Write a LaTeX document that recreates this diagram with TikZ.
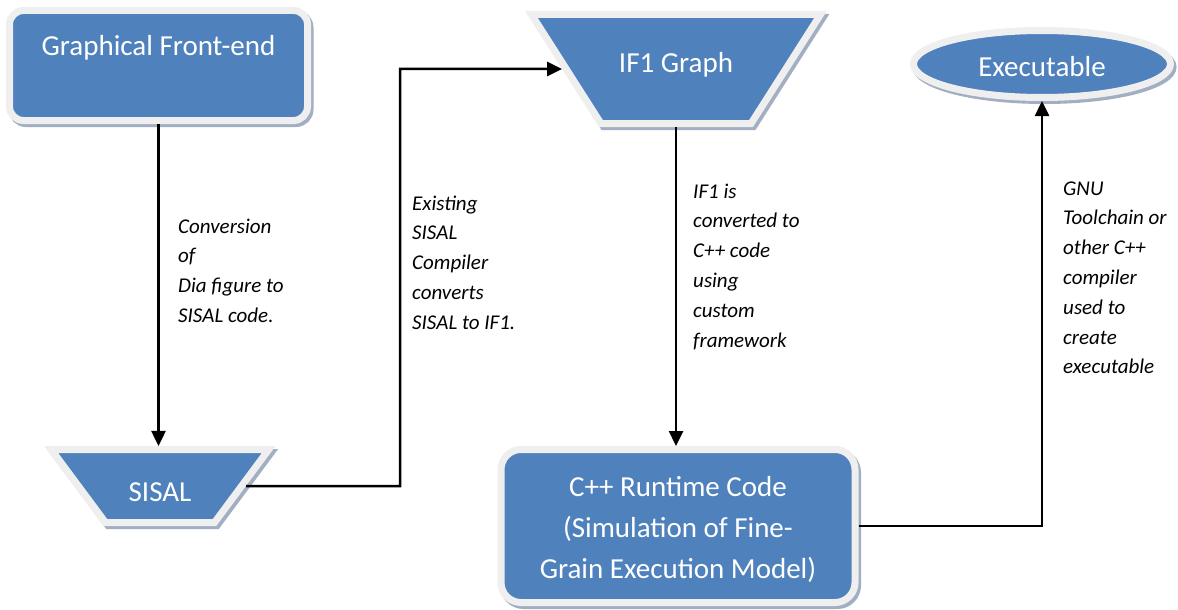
\documentclass[tikz,border=0pt]{standalone}
\usepackage{fontspec}
\setmainfont{Carlito}
\usetikzlibrary{shapes.geometric,arrows.meta}
\definecolor{boxblue}{HTML}{4F81BD}
\definecolor{rim}{HTML}{EFEFEF}
\definecolor{shade}{HTML}{A2AFC2}
% stacked lines for the step notes (first baseline is the node's base)
\newcommand\notelines[1]{\begin{tabular}[t]{@{}l@{}}#1\end{tabular}}
% centred stacked lines inside a block
\newcommand\boxlines[1]{\begin{tabular}[t]{@{}c@{}}#1\end{tabular}}

\begin{document}
\begin{tikzpicture}[x=1pt,y=-1pt,
  block/.style={fill=boxblue, draw=rim, line width=7pt, text=white, inner sep=0pt,
     font=\fontsize{29}{41}\selectfont,
     preaction={draw=shade, fill=shade, line width=7pt,
                transform canvas={shift={(2.5pt,-3pt)}}}},
  roundbox/.style={block, rectangle, rounded corners=#1},
  funnel/.style={block, trapezium, shape border rotate=180,
     trapezium stretches body, trapezium angle=#1},
  oval/.style={block, ellipse},
  note/.style={anchor=base west, inner sep=0pt,
     font=\fontsize{21}{29.8}\selectfont\itshape},
  link/.style={line width=2.5pt, -{Triangle[length=15pt,width=14pt]}}
]
\useasboundingbox[fill=white] (0,0) rectangle (1178,610);

% process blocks (text height + depth of the funnels equals their height)
\node[roundbox=14pt, minimum width=298pt, minimum height=110pt,
      text height=19pt, text depth=38pt] (gfe) at (158.5,65.5) {Graphical Front-end};
\node[funnel=53.4, minimum width=217.5pt, minimum height=73pt,
      text height=51.5pt, text depth=21.5pt] (sisal) at (160,486) {SISAL};
\node[funnel=57.5, minimum width=289pt, minimum height=109pt,
      text height=58.5pt, text depth=50.5pt] (if1) at (676,69) {IF1 Graph};
\node[oval, minimum width=257pt, minimum height=67pt,
      text height=27pt, text depth=1pt] (exe) at (1042,64) {Executable};
\node[roundbox=20pt, minimum width=354pt, minimum height=153pt,
      text height=35pt, text depth=94pt] (cpp) at (678,526)
      {\boxlines{C++ Runtime Code\\(Simulation of Fine-\\Grain Execution Model)}};

% connectors
\coordinate (turn) at (400,486);
\draw[link] (gfe.south) -- (gfe.south |- sisal.north);
\draw[link] (sisal.east) -- (turn) |- (if1.west);
\draw[link] (if1.south) -- (if1.south |- cpp.north);
\draw[link] (cpp.east) -| (exe.south);

% step descriptions
\node[note] (n1) at (178,233) {\notelines{Conversion\\of\\Dia figure to\\SISAL code.}};
\node[note] (n2) at (412,210) {\notelines{Existing\\SISAL\\Compiler\\converts\\SISAL to IF1.}};
\node[note] (n3) at (693,198) {\notelines{IF1 is\\converted to\\C++ code\\using\\custom\\framework}};
\node[note] (n4) at (1063,195) {\notelines{GNU\\Toolchain or\\other C++\\compiler\\used to\\create\\executable}};
\end{tikzpicture}
\end{document}
